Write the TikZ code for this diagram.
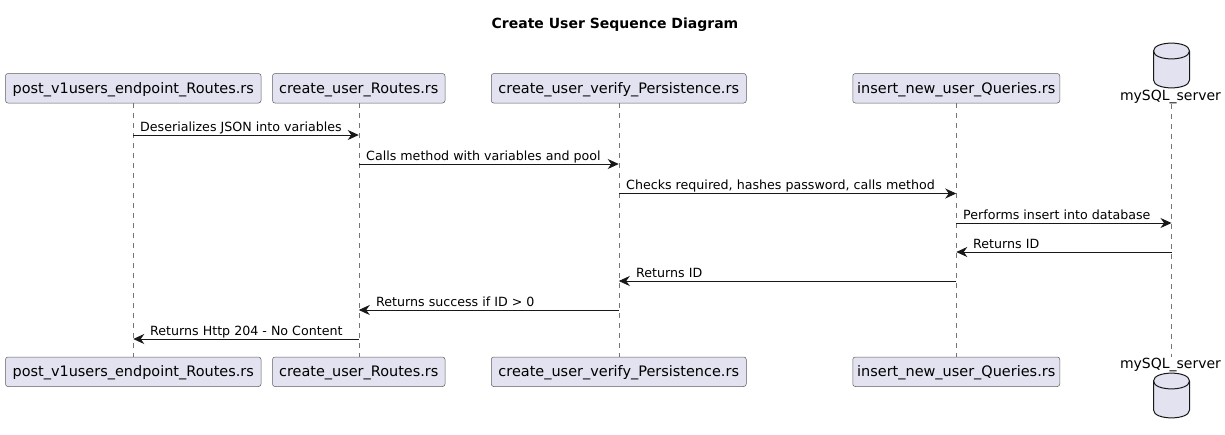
\documentclass[tikz,border=0pt]{standalone}
\usepackage{fontspec}
\setmainfont{DejaVu Sans}
\usetikzlibrary{arrows.meta,calc}
\definecolor{partfill}{HTML}{E2E2F0}
\definecolor{partline}{HTML}{181818}
\tikzset{
  part/.style={draw=partline!70,fill=partfill,line width=0.5pt,rounded corners=2.5pt,minimum height=29.5pt,inner sep=0pt,font=\fontsize{14.45}{16}\selectfont,text height=11.5pt,text depth=1.5pt},
  dblabel/.style={inner sep=0pt,font=\fontsize{14}{16}\selectfont,text height=11pt,text depth=3pt},
  life/.style={draw=partline!60,line width=0.5pt,dash pattern=on 5pt off 5pt},
  msg/.style={draw=partline,line width=0.9pt,-{Stealth[length=11pt,width=10pt,inset=3.5pt]}},
  msgtext/.style={anchor=base west,inner sep=0pt,font=\fontsize{12.65}{15}\selectfont,text=black},
  dbshape/.style={draw=partline,fill=partfill,line width=1pt}
}
\newcommand{\dbdraw}[2]{%
  \draw[dbshape] (#1-18,#2+8) .. controls (#1-18,#2-2.5) and (#1+18,#2-2.5) .. (#1+18,#2+8)
    -- (#1+18,#2+37) .. controls (#1+18,#2+47.5) and (#1-18,#2+47.5) .. (#1-18,#2+37) -- cycle;
  \draw[dbshape,fill=none] (#1-18,#2+8) .. controls (#1-18,#2+18.5) and (#1+18,#2+18.5) .. (#1+18,#2+8);
}
\begin{document}
\begin{tikzpicture}[x=1pt,y=-1pt]
\useasboundingbox (0,0) rectangle (1225,434);
\node[font=\bfseries\fontsize{14}{16}\selectfont,inner sep=0pt,anchor=base] (title) at (615,28) {Create User Sequence Diagram};

\node[part,minimum width=255.5pt] (a1) at (133.25,88.25) {post\_v1users\_endpoint\_Routes.rs};
\node[part,minimum width=172.5pt] (b1) at (358.75,88.25) {create\_user\_Routes.rs};
\node[part,minimum width=255pt] (c1) at (618.75,88.25) {create\_user\_verify\_Persistence.rs};
\node[part,minimum width=207pt] (d1) at (956.25,88.25) {insert\_new\_user\_Queries.rs};
\node[part,minimum width=255.5pt] (a2) at (133.25,371.75) {post\_v1users\_endpoint\_Routes.rs};
\node[part,minimum width=172.5pt] (b2) at (358.75,371.75) {create\_user\_Routes.rs};
\node[part,minimum width=255pt] (c2) at (618.75,371.75) {create\_user\_verify\_Persistence.rs};
\node[part,minimum width=207pt] (d2) at (956.25,371.75) {insert\_new\_user\_Queries.rs};

\dbdraw{1171.5}{43}
\dbdraw{1171.5}{373}
\node[dblabel] (e1) at (1170.5,96) {mySQL\_server};
\node[dblabel] (e2) at (1170.5,364) {mySQL\_server};

\draw[life] (a1.south) -- (a2.north);
\draw[life] (b1.south) -- (b2.north);
\draw[life] (c1.south) -- (c2.north);
\draw[life] (d1.south) -- (d2.north);
\draw[life] (1171.5,103.5) -- (1171.5,356.5);

\draw[msg] (a1.south |- 0,135) -- (b1.south |- 0,135);
\draw[msg] (b1.south |- 0,164) -- (c1.south |- 0,164);
\draw[msg] (c1.south |- 0,193.5) -- (d1.south |- 0,193.5);
\draw[msg] (d1.south |- 0,223) -- (1171.5,223);
\draw[msg] (1171.5,252) -- (d1.south |- 0,252);
\draw[msg] (d1.south |- 0,281) -- (c1.south |- 0,281);
\draw[msg] (c1.south |- 0,310) -- (b1.south |- 0,310);
\draw[msg] (b1.south |- 0,339) -- (a1.south |- 0,339);

\node[msgtext] (m1) at (140,131) {Deserializes JSON into variables};
\node[msgtext] (m2) at (366,160) {Calls method with variables and pool};
\node[msgtext] (m3) at (626,189.5) {Checks required, hashes password, calls method};
\node[msgtext] (m4) at (963,219) {Performs insert into database};
\node[msgtext] (m5) at (973,248) {Returns ID};
\node[msgtext] (m6) at (636,277) {Returns ID};
\node[msgtext] (m7) at (376,306) {Returns success if ID > 0};
\node[msgtext] (m8) at (150,335) {Returns Http 204 - No Content};
\end{tikzpicture}
\end{document}
